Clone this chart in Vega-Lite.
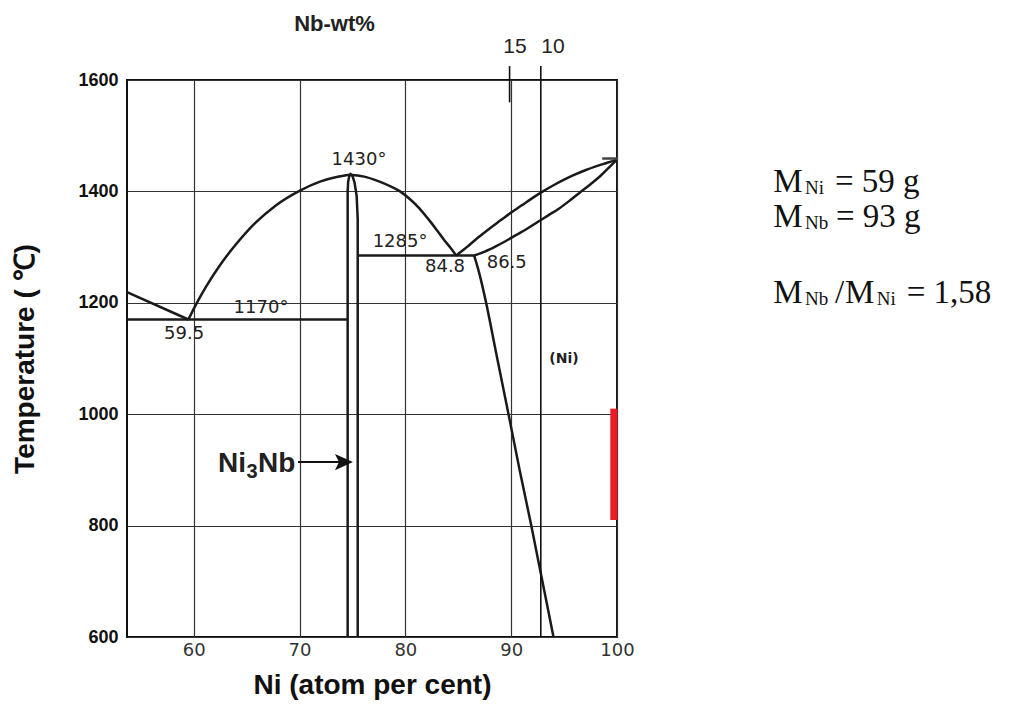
{
  "$schema": "https://vega.github.io/schema/vega-lite/v6.json",
  "autosize": {"type": "none"},
  "padding": {"left": 127, "top": 80, "right": 393, "bottom": 72},
  "width": 490,
  "height": 557,
  "background": "white",
  "config": {"view": {"stroke": "#111", "strokeWidth": 2}},
  "datasets": {
    "curves": [
      {"c": "b", "o": 1, "x": 59.5, "y": 1170}, {"c": "b", "o": 2, "x": 60.3, "y": 1200}, {"c": "b", "o": 3, "x": 61.2, "y": 1230},
      {"c": "b", "o": 4, "x": 62.5, "y": 1268}, {"c": "b", "o": 5, "x": 64.0, "y": 1305}, {"c": "b", "o": 6, "x": 65.8, "y": 1343},
      {"c": "b", "o": 7, "x": 67.7, "y": 1374}, {"c": "b", "o": 8, "x": 70.0, "y": 1401}, {"c": "b", "o": 9, "x": 72.0, "y": 1418},
      {"c": "b", "o": 10, "x": 73.5, "y": 1426}, {"c": "b", "o": 11, "x": 74.8, "y": 1430},
      {"c": "c", "o": 1, "x": 74.8, "y": 1430}, {"c": "c", "o": 2, "x": 76.0, "y": 1427}, {"c": "c", "o": 3, "x": 77.5, "y": 1418},
      {"c": "c", "o": 4, "x": 78.5, "y": 1410}, {"c": "c", "o": 5, "x": 79.5, "y": 1400}, {"c": "c", "o": 6, "x": 80.5, "y": 1385},
      {"c": "c", "o": 7, "x": 81.3, "y": 1370}, {"c": "c", "o": 8, "x": 82.1, "y": 1352}, {"c": "c", "o": 9, "x": 83.0, "y": 1330},
      {"c": "c", "o": 10, "x": 83.7, "y": 1312}, {"c": "c", "o": 11, "x": 84.3, "y": 1298}, {"c": "c", "o": 12, "x": 84.8, "y": 1285},
      {"c": "g", "o": 1, "x": 84.8, "y": 1285}, {"c": "g", "o": 2, "x": 86, "y": 1303}, {"c": "g", "o": 3, "x": 87, "y": 1319},
      {"c": "g", "o": 4, "x": 88, "y": 1334}, {"c": "g", "o": 5, "x": 89, "y": 1348}, {"c": "g", "o": 6, "x": 90, "y": 1362},
      {"c": "g", "o": 7, "x": 91, "y": 1375}, {"c": "g", "o": 8, "x": 92, "y": 1388}, {"c": "g", "o": 9, "x": 93, "y": 1400},
      {"c": "g", "o": 10, "x": 94, "y": 1411}, {"c": "g", "o": 11, "x": 95, "y": 1421}, {"c": "g", "o": 12, "x": 96, "y": 1430},
      {"c": "g", "o": 13, "x": 97, "y": 1438}, {"c": "g", "o": 14, "x": 98, "y": 1445}, {"c": "g", "o": 15, "x": 99, "y": 1451},
      {"c": "g", "o": 16, "x": 100, "y": 1457},
      {"c": "h", "o": 1, "x": 86.5, "y": 1285}, {"c": "h", "o": 2, "x": 87.5, "y": 1292}, {"c": "h", "o": 3, "x": 88.5, "y": 1301},
      {"c": "h", "o": 4, "x": 89.5, "y": 1311}, {"c": "h", "o": 5, "x": 90.5, "y": 1322}, {"c": "h", "o": 6, "x": 91.5, "y": 1333},
      {"c": "h", "o": 7, "x": 92.5, "y": 1345}, {"c": "h", "o": 8, "x": 93.5, "y": 1357}, {"c": "h", "o": 9, "x": 94.5, "y": 1369},
      {"c": "h", "o": 10, "x": 95.5, "y": 1383}, {"c": "h", "o": 11, "x": 96.5, "y": 1398}, {"c": "h", "o": 12, "x": 97.5, "y": 1413},
      {"c": "h", "o": 13, "x": 98.5, "y": 1429}, {"c": "h", "o": 14, "x": 99.3, "y": 1444}, {"c": "h", "o": 15, "x": 100, "y": 1457},
      {"c": "i", "o": 1, "x": 86.5, "y": 1285}, {"c": "i", "o": 2, "x": 87.0, "y": 1252}, {"c": "i", "o": 3, "x": 87.6, "y": 1203},
      {"c": "i", "o": 4, "x": 88.6, "y": 1108}, {"c": "i", "o": 5, "x": 89.75, "y": 1000}, {"c": "i", "o": 6, "x": 90.8, "y": 900},
      {"c": "i", "o": 7, "x": 91.9, "y": 800}, {"c": "i", "o": 8, "x": 92.95, "y": 700}, {"c": "i", "o": 9, "x": 94.0, "y": 600}
    ],
    "straight": [
      {"c": "a", "o": 1, "x": 53.7, "y": 1219}, {"c": "a", "o": 2, "x": 59.5, "y": 1170},
      {"c": "d", "o": 1, "x": 53.7, "y": 1170}, {"c": "d", "o": 2, "x": 74.5, "y": 1170},
      {"c": "e", "o": 1, "x": 75.5, "y": 1285}, {"c": "e", "o": 2, "x": 86.5, "y": 1285},
      {"c": "f", "o": 1, "x": 74.55, "y": 600}, {"c": "f", "o": 2, "x": 74.55, "y": 1400}, {"c": "f", "o": 3, "x": 74.6, "y": 1418},
      {"c": "f", "o": 4, "x": 74.7, "y": 1427}, {"c": "f", "o": 5, "x": 74.82, "y": 1431}, {"c": "f", "o": 6, "x": 75.0, "y": 1428},
      {"c": "f", "o": 7, "x": 75.2, "y": 1416}, {"c": "f", "o": 8, "x": 75.4, "y": 1392}, {"c": "f", "o": 9, "x": 75.5, "y": 1350},
      {"c": "f", "o": 10, "x": 75.5, "y": 600}
    ],
    "wtlines": [
      {"x": 92.8, "y": 600, "y2": 1625},
      {"x": 89.85, "y": 1560, "y2": 1625}
    ],
    "redbar": [{"x": 99.7, "y": 810, "y2": 1010}],
    "arrow": [{"x": 69.86, "x2": 73.9, "y": 914}],
    "arrowhead": [{"x": 74.2, "y": 914}],
    "topmark": [{"x": 98.6, "x2": 100.1, "y": 1459}],
    "labels": [
      {"x": 75.62, "y": 1456, "t": "1430°"},
      {"x": 79.5, "y": 1310, "t": "1285°"},
      {"x": 83.75, "y": 1265, "t": "84.8"},
      {"x": 89.58, "y": 1272, "t": "86.5"},
      {"x": 66.36, "y": 1191, "t": "1170°"},
      {"x": 59.09, "y": 1144, "t": "59.5"}
    ],
    "nilabel": [{"x": 94.99, "y": 1100, "t": "(Ni)"}],
    "wtlabels": [
      {"x": 90.36, "y": 1660, "t": "15"},
      {"x": 93.95, "y": 1660, "t": "10"}
    ],
    "wttitle": [{"x": 73.31, "y": 1701, "t": "Nb-wt%"}],
    "ni3nb": [
      {"x": 62.3, "y": 897, "t": "Ni"},
      {"x": 66.08, "y": 897, "t": "Nb"}
    ],
    "ni3nbsub": [{"x": 64.99, "y": 885, "t": "3"}],
    "mainTxt": [
      {"x": 114.77, "y": 1398.9, "t": "M"},
      {"x": 120.6, "y": 1398.9, "t": "= 59 g"},
      {"x": 114.77, "y": 1336.3, "t": "M"},
      {"x": 120.69, "y": 1336.3, "t": "= 93 g"},
      {"x": 114.77, "y": 1199, "t": "M"},
      {"x": 120.6, "y": 1199, "t": "/"},
      {"x": 121.55, "y": 1199, "t": "M"},
      {"x": 127.37, "y": 1199, "t": "= 1,58"}
    ],
    "subTxt": [
      {"x": 117.77, "y": 1395.3, "t": "Ni"},
      {"x": 117.77, "y": 1332.7, "t": "Nb"},
      {"x": 117.77, "y": 1195.5, "t": "Nb"},
      {"x": 124.54, "y": 1195.5, "t": "Ni"}
    ]
  },
  "encoding": {
    "x": {
      "field": "x", "type": "quantitative",
      "scale": {"domain": [53.7, 100], "nice": false, "zero": false},
      "axis": {
        "title": "Ni (atom per cent)", "values": [60, 70, 80, 90, 100],
        "grid": true, "gridColor": "#333", "gridWidth": 1.2, "ticks": false, "domain": false,
        "labelFont": "DejaVu Sans", "labelFontSize": 18, "labelColor": "#333", "labelPadding": 4, "labelFlush": false,
        "titleFont": "Liberation Sans", "titleFontWeight": "bold", "titleFontSize": 28, "titleColor": "#111", "titlePadding": 12
      }
    },
    "y": {
      "field": "y", "type": "quantitative",
      "scale": {"domain": [600, 1600], "nice": false, "zero": false},
      "axis": {
        "title": "Temperature ( ℃)", "values": [600, 800, 1000, 1200, 1400, 1600], "format": "d",
        "grid": true, "gridColor": "#333", "gridWidth": 1.2, "ticks": false, "domain": false,
        "labelFont": "Liberation Sans", "labelFontWeight": "bold", "labelFontSize": 18, "labelColor": "#111", "labelPadding": 9, "labelFlush": false,
        "titleFont": "Liberation Sans", "titleFontWeight": "bold", "titleFontSize": 28, "titleColor": "#111", "titlePadding": 38
      }
    }
  },
  "layer": [
    {
      "data": {"name": "curves"},
      "mark": {"type": "line", "color": "#1a1a1a", "strokeWidth": 2.5, "interpolate": "monotone"},
      "encoding": {"detail": {"field": "c"}, "order": {"field": "o", "type": "quantitative"}}
    },
    {
      "data": {"name": "straight"},
      "mark": {"type": "line", "color": "#1a1a1a", "strokeWidth": 2.5},
      "encoding": {"detail": {"field": "c"}, "order": {"field": "o", "type": "quantitative"}}
    },
    {
      "data": {"name": "wtlines"},
      "mark": {"type": "rule", "color": "#111", "strokeWidth": 1.6},
      "encoding": {"y2": {"field": "y2"}}
    },
    {
      "data": {"name": "redbar"},
      "mark": {"type": "rule", "color": "#ED1C24", "strokeWidth": 7},
      "encoding": {"y2": {"field": "y2"}}
    },
    {
      "data": {"name": "arrow"},
      "mark": {"type": "rule", "color": "#111", "strokeWidth": 2},
      "encoding": {"x2": {"field": "x2"}}
    },
    {
      "data": {"name": "arrowhead"},
      "mark": {"type": "point", "shape": "M1,0L-1,-0.9L-0.55,0L-1,0.9Z", "size": 324, "filled": true, "color": "#111", "opacity": 1},
      "encoding": {}
    },
    {
      "data": {"name": "topmark"},
      "mark": {"type": "rule", "color": "#444", "strokeWidth": 2.5},
      "encoding": {"x2": {"field": "x2"}}
    },
    {
      "data": {"name": "labels"},
      "mark": {"type": "text", "font": "DejaVu Sans", "fontSize": 18, "color": "#222", "align": "center", "baseline": "middle"},
      "encoding": {"text": {"field": "t"}}
    },
    {
      "data": {"name": "nilabel"},
      "mark": {"type": "text", "font": "DejaVu Sans", "fontSize": 14, "fontWeight": "bold", "color": "#222", "align": "center", "baseline": "middle"},
      "encoding": {"text": {"field": "t"}}
    },
    {
      "data": {"name": "wtlabels"},
      "mark": {"type": "text", "font": "Liberation Sans", "fontSize": 21, "color": "#222", "align": "center", "baseline": "middle"},
      "encoding": {"text": {"field": "t"}}
    },
    {
      "data": {"name": "wttitle"},
      "mark": {"type": "text", "font": "Liberation Sans", "fontSize": 22, "fontWeight": "bold", "color": "#222", "align": "center", "baseline": "middle"},
      "encoding": {"text": {"field": "t"}}
    },
    {
      "data": {"name": "ni3nb"},
      "mark": {"type": "text", "font": "Liberation Sans", "fontSize": 28, "fontWeight": "bold", "color": "#222", "align": "left", "baseline": "alphabetic"},
      "encoding": {"text": {"field": "t"}}
    },
    {
      "data": {"name": "ni3nbsub"},
      "mark": {"type": "text", "font": "Liberation Sans", "fontSize": 20, "fontWeight": "bold", "color": "#222", "align": "left", "baseline": "alphabetic"},
      "encoding": {"text": {"field": "t"}}
    },
    {
      "data": {"name": "mainTxt"},
      "mark": {"type": "text", "font": "Liberation Serif", "fontSize": 33, "color": "#111", "align": "left", "baseline": "alphabetic"},
      "encoding": {"text": {"field": "t"}}
    },
    {
      "data": {"name": "subTxt"},
      "mark": {"type": "text", "font": "Liberation Serif", "fontSize": 19, "color": "#111", "align": "left", "baseline": "alphabetic"},
      "encoding": {"text": {"field": "t"}}
    }
  ]
}
